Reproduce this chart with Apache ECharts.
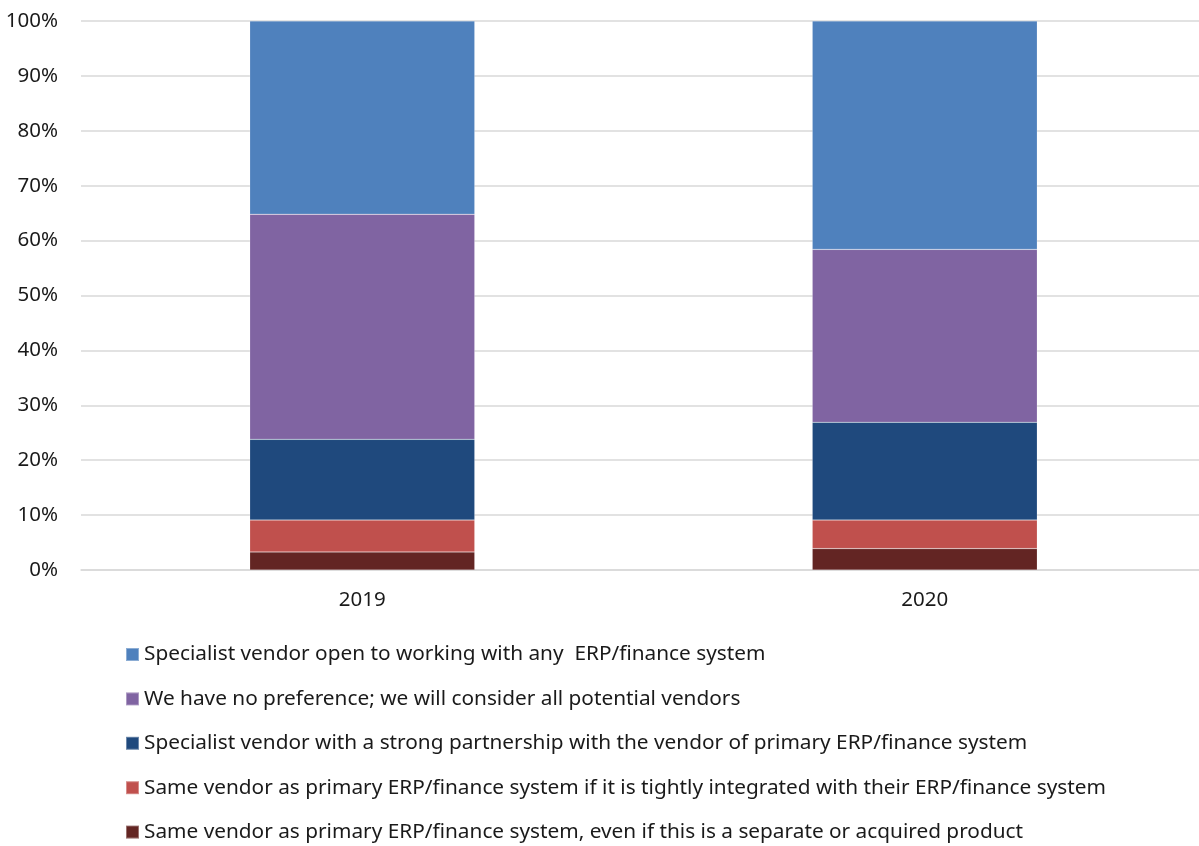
<!DOCTYPE html>
<html lang="en">
<head>
    <meta charset="UTF-8">
    <title>Vendor preference</title>
    <script src="https://cdn.jsdelivr.net/npm/echarts@6/dist/echarts.min.js"></script>
    <style>
        html,body{margin:0;padding:0;background:#fff;}
        #chart{width:1199px;height:846px;}
    </style>
</head>
<body>
<div id="chart"></div>
<script>
    // data (percent of respondents)
    var years = ['2019', '2020'];
    var yTicks = [0, 10, 20, 30, 40, 50, 60, 70, 80, 90, 100];
    var sameVendorAny = [3.3, 3.9];
    var sameVendorIntegrated = [5.8, 5.2];
    var specialistPartner = [14.7, 17.8];
    var noPreference = [41.0, 31.5];
    var specialistOpen = [35.2, 41.6];

    var names = [
        'Same vendor as primary ERP/finance system, even if this is a separate or acquired product',
        'Same vendor as primary ERP/finance system if it is tightly integrated with their ERP/finance system',
        'Specialist vendor with a strong partnership with the vendor of primary ERP/finance system',
        'We have no preference; we will consider all potential vendors',
        'Specialist vendor open to working with any  ERP/finance system'
    ];
    var values = [sameVendorAny, sameVendorIntegrated, specialistPartner, noPreference, specialistOpen];
    var colors = ['#632523', '#C0504D', '#1F497D', '#8064A2', '#4F81BD'];

    var font = 'Noto Sans';
    var series = [];
    for (var i = 0; i < names.length; i++) {
        series.push({
            name: names[i],
            type: 'bar',
            stack: 'all',
            barWidth: 225,
            data: values[i],
            itemStyle: {color: colors[i], borderColor: 'rgba(255,255,255,0.35)', borderWidth: 0.5}
        });
    }

    var option = {
        animation: false,
        grid: {left: 81, top: 21, right: -7, height: 549, containLabel: false, outerBoundsMode: 'none'},
        xAxis: {
            type: 'category',
            data: years,
            axisLine: {show: true, lineStyle: {color: '#d9d9d9', width: 1.5}},
            axisTick: {show: false},
            axisLabel: {margin: 20, color: '#1a1a1a', fontFamily: font, fontSize: 20.5}
        },
        yAxis: {
            type: 'value',
            min: yTicks[0],
            max: yTicks[yTicks.length - 1],
            interval: 10,
            axisLine: {show: false},
            axisTick: {show: false},
            splitLine: {lineStyle: {color: '#d9d9d9', width: 1.5}},
            axisLabel: {margin: 23, color: '#1a1a1a', fontFamily: font, fontSize: 20.5, formatter: '{value}%'}
        },
        legend: {
            orient: 'vertical',
            left: 125,
            top: 644,
            height: 230,
            padding: 0,
            itemWidth: 13,
            itemHeight: 13,
            itemGap: 23.4,
            icon: 'rect',
            data: names.slice().reverse(),
            textStyle: {color: '#1a1a1a', fontFamily: font, fontSize: 20.8, lineHeight: 20}
        },
        series: series
    };
    var chart = echarts.init(document.getElementById('chart'));
    chart.setOption(option);
</script>
</body>
</html>
